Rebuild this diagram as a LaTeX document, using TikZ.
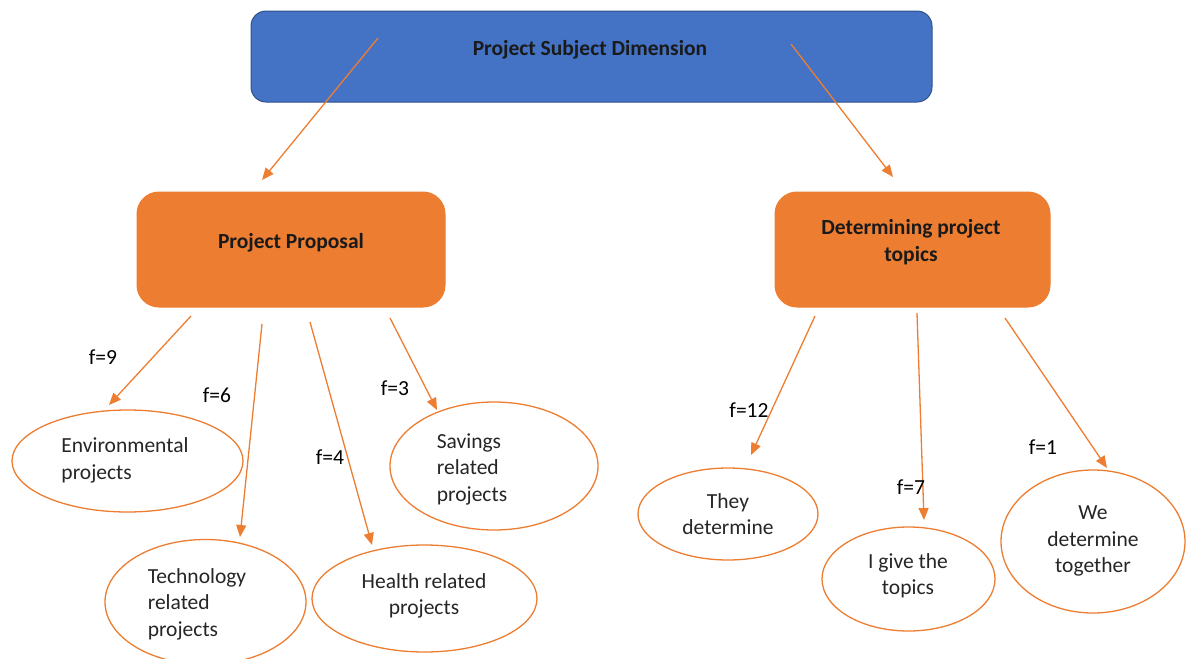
\documentclass[tikz,border=0pt]{standalone}
\usepackage{fontspec}
\setmainfont{Carlito}
\usetikzlibrary{arrows.meta,shapes.geometric}
\definecolor{blueA}{HTML}{4472C4}
\definecolor{blueB}{HTML}{2F528F}
\definecolor{orA}{HTML}{ED7D31}
\definecolor{txt}{HTML}{262626}
\definecolor{btxt}{HTML}{1A1A1A}
\begin{document}
\begin{tikzpicture}[x=1pt,y=-1pt,
  topbox/.style={draw=blueB, line width=1pt, fill=blueA, rounded corners=15pt, minimum width=681pt, minimum height=91pt, inner sep=0pt},
  midbox/.style={draw=orA, line width=1pt, fill=orA, rounded corners=22pt, inner sep=0pt},
  ell/.style={ellipse, draw=orA, line width=1.3pt, fill=white, inner sep=0pt},
  lbl/.style={font=\fontsize{21.5}{26.5}\selectfont, text=txt, inner sep=0pt},
  blbl/.style={font=\fontsize{21.5}{26.5}\selectfont\bfseries, text=btxt, inner sep=0pt, align=center},
  freq/.style={font=\fontsize{21.5}{26.5}\selectfont, text=black, inner sep=0pt},
  conn/.style={draw=orA, line width=1.3pt, -{Triangle[length=12pt,width=10pt]}}]
\useasboundingbox (0,0) rectangle (1187,659);
% boxes
\node[topbox] (top) at (591.5,56.5) {};
\node[blbl] (topt) at (590,50) {Project Subject Dimension};
\node[midbox, minimum width=308pt, minimum height=115pt] (pp) at (291,249.5) {};
\node[blbl] (ppt) at (291,243) {Project Proposal};
\node[midbox, minimum width=275pt, minimum height=115pt] (dt) at (912.5,249.5) {};
\node[blbl] (dtt) at (911,242) {Determining project\\topics};
% ellipses
\node[ell, minimum width=231pt, minimum height=102pt] (env) at (127.5,461) {};
\node[lbl, align=left] (envt) at (125,460.5) {Environmental\\projects};
\node[ell, minimum width=201pt, minimum height=125pt] (tech) at (205.5,602) {};
\node[lbl, align=left] (techt) at (197,604) {Technology\\related\\projects};
\node[ell, minimum width=225pt, minimum height=107pt] (health) at (424.5,598.5) {};
\node[lbl, align=center] (healtht) at (424,596) {Health related\\projects};
\node[ell, minimum width=208pt, minimum height=128pt] (sav) at (494,466) {};
\node[lbl, align=left] (savt) at (472,469) {Savings\\related\\projects};
\node[ell, minimum width=180pt, minimum height=92pt] (they) at (728,514) {};
\node[lbl, align=center] (theyt) at (728,514) {They\\determine};
\node[ell, minimum width=173pt, minimum height=104pt] (igive) at (908.5,579) {};
\node[lbl, align=center] (igivet) at (908,576) {I give the\\topics};
\node[ell, minimum width=184pt, minimum height=143pt] (we) at (1093,541.5) {};
\node[lbl, align=center] (wet) at (1093,541) {We\\determine\\together};
% connector end points
\coordinate (s1) at (378,38);  \coordinate (e1) at (262,180);
\coordinate (s2) at (791,44);  \coordinate (e2) at (893,177);
\coordinate (s3) at (191,316); \coordinate (e3) at (109,405);
\coordinate (s4) at (262,324); \coordinate (e4) at (240,537);
\coordinate (s5) at (310,322); \coordinate (e5) at (372,545);
\coordinate (s6) at (390,318); \coordinate (e6) at (437,410);
\coordinate (s7) at (815,316); \coordinate (e7) at (751,455);
\coordinate (s8) at (917,313); \coordinate (e8) at (924,520);
\coordinate (s9) at (1005,318);\coordinate (e9) at (1107,468);
\draw[conn] (s1) -- (e1);
\draw[conn] (s2) -- (e2);
\draw[conn] (s3) -- (e3);
\draw[conn] (s4) -- (e4);
\draw[conn] (s5) -- (e5);
\draw[conn] (s6) -- (e6);
\draw[conn] (s7) -- (e7);
\draw[conn] (s8) -- (e8);
\draw[conn] (s9) -- (e9);
% frequency labels
\node[freq] (f9) at (103,357) {f=9};
\node[freq] (f6) at (217,395) {f=6};
\node[freq] (f4) at (330,457) {f=4};
\node[freq] (f3) at (395,388) {f=3};
\node[freq] (f12) at (749,410) {f=12};
\node[freq] (f7) at (911,487) {f=7};
\node[freq] (f1) at (1043,447) {f=1};
\end{tikzpicture}
\end{document}
